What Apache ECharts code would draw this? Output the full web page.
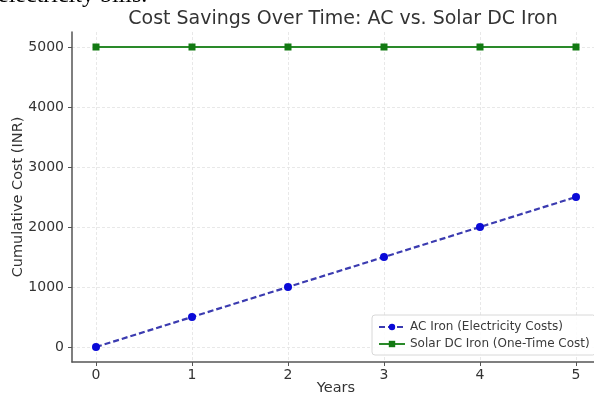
<!DOCTYPE html>
<html>
<head>
<meta charset="utf-8">
<script src="https://cdn.jsdelivr.net/npm/echarts@6/dist/echarts.min.js"></script>
<style>
  html, body { margin: 0; padding: 0; background: #fff; overflow: hidden; }
  #chart { width: 594px; height: 399px; }
</style>
</head>
<body>
<div id="chart"></div>
<script>
// Years since purchase
const years = [0, 1, 2, 3, 4, 5];
// Cumulative cost in INR
const acIronCost = [0, 500, 1000, 1500, 2000, 2500];
const solarIronCost = [5000, 5000, 5000, 5000, 5000, 5000];
// Tick labels
const xTicks = [0, 1, 2, 3, 4, 5];
const yTicks = [0, 1000, 2000, 3000, 4000, 5000];

const FONT = 'DejaVu Sans';
const pair = (ys) => years.map((x, i) => [x, ys[i]]);

const chart = echarts.init(document.getElementById('chart'), null, { renderer: 'canvas' });

const axisCommon = {
  axisLine: { show: true, onZero: false, lineStyle: { color: '#555', width: 1.5 } },
  axisTick: { show: true, inside: false, length: 4, lineStyle: { color: '#555', width: 1 } },
  splitLine: { show: true, lineStyle: { color: '#e2e2e2', width: 0.8, type: [3, 2] } },
  axisLabel: { color: '#333', fontFamily: FONT, fontSize: 14, formatter: (v) => String(v) },
  nameTextStyle: { color: '#333', fontFamily: FONT, fontSize: 14.5 },
  nameMoveOverlap: false
};

chart.setOption({
  animation: false,
  backgroundColor: '#fff',
  title: {
    text: 'Cost Savings Over Time: AC vs. Solar DC Iron',
    left: 338, top: 5, textAlign: 'center',
    textStyle: { color: '#333', fontFamily: FONT, fontSize: 19, fontWeight: 'normal' }
  },
  graphic: [{
    type: 'text', left: -2, top: -16,
    style: { text: 'electricity bills.', fill: '#000', font: '24px "Liberation Serif"' }
  }],
  grid: { left: 72, width: 528, top: 32, bottom: 37, containLabel: false, outerBoundsMode: 'none' },
  xAxis: Object.assign({}, axisCommon, {
    type: 'value', min: -0.25, max: 5.25,
    name: 'Years', nameLocation: 'middle', nameGap: 19,
    axisTick: Object.assign({}, axisCommon.axisTick, { customValues: xTicks }),
    axisLabel: Object.assign({}, axisCommon.axisLabel, { customValues: xTicks, margin: 6 }),
    splitLine: Object.assign({}, axisCommon.splitLine, { customValues: xTicks })
  }),
  yAxis: Object.assign({}, axisCommon, {
    type: 'value', min: -250, max: 5250,
    name: 'Cumulative Cost (INR)', nameLocation: 'middle', nameGap: 46, nameRotate: 90,
    axisTick: Object.assign({}, axisCommon.axisTick, { customValues: yTicks }),
    axisLabel: Object.assign({}, axisCommon.axisLabel, { customValues: yTicks, margin: 8 }),
    splitLine: Object.assign({}, axisCommon.splitLine, { customValues: yTicks })
  }),
  legend: {
    left: 372, top: 315, orient: 'vertical',
    backgroundColor: 'rgba(255,255,255,0.85)', borderColor: '#d8d8d8', borderWidth: 1, borderRadius: 3,
    padding: [6, 6, 5, 6], itemGap: 5, itemWidth: 26, itemHeight: 8,
    textStyle: { color: '#3a3a3a', fontFamily: FONT, fontSize: 12 },
    data: [
      { name: 'AC Iron (Electricity Costs)' },
      { name: 'Solar DC Iron (One-Time Cost)' }
    ]
  },
  series: [
    {
      name: 'AC Iron (Electricity Costs)', type: 'line',
      data: pair(acIronCost),
      symbol: 'circle', symbolSize: 8,
      lineStyle: { color: '#3b3bb0', width: 2.2, type: [6, 3] },
      itemStyle: { color: '#0a0ad8' },
      z: 3
    },
    {
      name: 'Solar DC Iron (One-Time Cost)', type: 'line',
      data: pair(solarIronCost),
      symbol: 'rect', symbolSize: 7,
      lineStyle: { color: '#2a8a2a', width: 2 },
      itemStyle: { color: '#137a13' },
      z: 3
    }
  ]
});
</script>
</body>
</html>
